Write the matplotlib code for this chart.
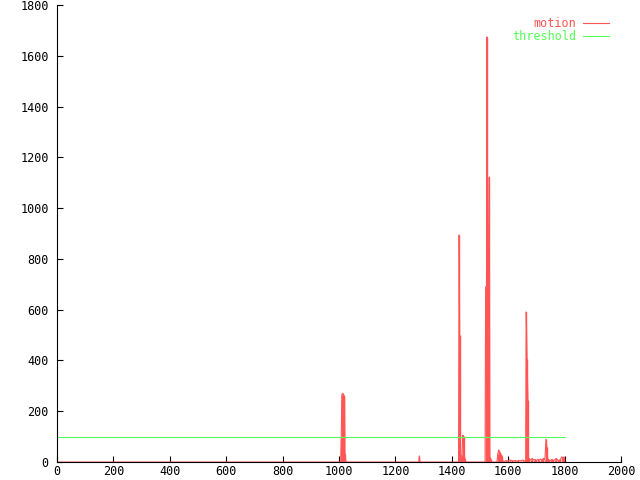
import numpy as np
import matplotlib.pyplot as plt

# motion per frame (sparse peaks, zero elsewhere)
motion_frames = [0, 1006, 1008, 1010, 1013, 1016, 1019, 1021, 1023, 1025,
                 1283, 1285, 1287,
                 1424, 1426, 1428, 1430, 1433, 1436, 1439, 1441, 1443, 1445, 1448, 1451,
                 1518, 1520, 1523, 1525, 1527, 1530, 1533, 1535, 1538, 1541,
                 1560, 1563, 1566, 1569, 1572, 1575, 1578, 1581, 1584,
                 1593, 1600, 1605, 1612, 1618, 1625, 1630, 1636, 1645, 1652, 1658, 1662,
                 1664, 1667, 1670, 1672, 1675, 1680, 1685, 1690, 1695, 1700, 1705,
                 1710, 1715, 1720, 1725, 1730, 1734, 1737, 1740, 1745, 1750, 1755,
                 1760, 1765, 1770, 1775, 1780, 1785, 1790, 1795, 1798, 1800]
motion_values = [0, 0, 95, 265, 270, 262, 255, 30, 10, 0,
                 0, 24, 0,
                 0, 894, 500, 25, 20, 28, 106, 100, 100, 20, 8, 0,
                 0, 690, 690, 1674, 398, 756, 1122, 20, 10, 0,
                 0, 30, 47, 40, 35, 28, 24, 5, 0,
                 6, 3, 8, 6, 4, 6, 3, 6, 5, 8, 4, 0,
                 591, 406, 244, 16, 12, 8, 14, 8, 10, 6, 10,
                 8, 12, 6, 14, 8, 90, 59, 12, 8, 6, 10,
                 6, 8, 14, 8, 6, 10, 20, 18, 20, 0]

threshold_frames = [0, 1800]
threshold_values = [100, 100]

red = '#ff5555'
green = '#55ff55'
plt.rcParams['font.family'] = 'DejaVu Sans Mono'
plt.rcParams['font.size'] = 8.5

fig = plt.figure(figsize=(6.4, 4.8), dpi=100)
ax = fig.add_axes([57/640, 18/480, 564/640, 457/480])

ax.vlines(motion_frames, 0, motion_values, color=red, linewidth=1.0)
ax.plot(motion_frames, motion_values, color=red, linewidth=0.8, label='motion')
ax.plot(threshold_frames, threshold_values, color=green, linewidth=0.8, label='threshold')

ax.set_xlim(0, 2000)
ax.set_ylim(0, 1800)
ax.set_xticks(np.arange(0, 2001, 200))
ax.set_yticks(np.arange(0, 1801, 200))
ax.tick_params(direction='in', length=4, width=0.8)
ax.tick_params(axis='x', pad=2)
ax.tick_params(axis='y', pad=6)
for s in ['top', 'right']:
    ax.spines[s].set_visible(False)
for s in ['left', 'bottom']:
    ax.spines[s].set_linewidth(0.8)

leg = ax.legend(loc='upper right', bbox_to_anchor=(1.0, 1.0), frameon=False,
                markerfirst=False, handlelength=2.2, handletextpad=0.6,
                labelspacing=0.05, borderaxespad=0.6)
for t, c in zip(leg.get_texts(), [red, green]):
    t.set_color(c)

plt.savefig('out.png', dpi=100)
